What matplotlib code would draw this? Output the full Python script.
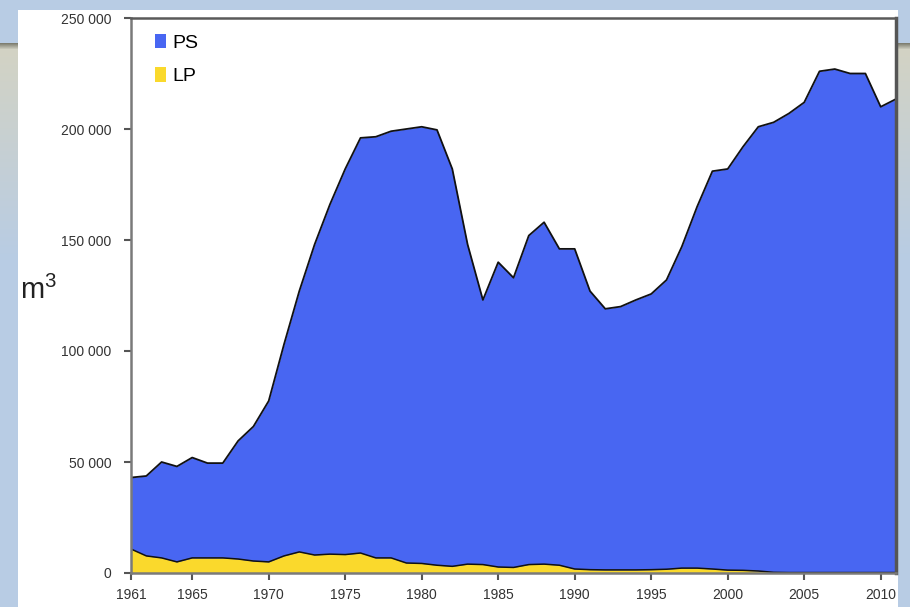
import numpy as np
import matplotlib
matplotlib.use("Agg")
import matplotlib.pyplot as plt
from matplotlib.patches import Rectangle, Patch
from matplotlib.ticker import FuncFormatter
import matplotlib.colors as mcolors

plt.rcParams['font.family'] = ['Liberation Sans', 'DejaVu Sans']
plt.rcParams['mathtext.default'] = 'regular'

# years 1961-2011
years = list(range(1961, 2012))

# top of the blue area (PS), m3
ps = [43000, 43700, 50000, 48000, 52000, 49500, 49500, 59500, 66000, 77500,
      103000, 127000, 148000, 166000, 182000, 196000, 196500, 199000, 200000, 201000,
      199600, 182000, 148000, 123000, 140000, 133000, 152000, 158000, 146000, 146000,
      127000, 119000, 120000, 123000, 125700, 132000, 147000, 165000, 181000, 182000,
      192000, 201000, 203000, 207000, 212000, 226000, 227000, 225000, 225000, 210000,
      213500]

# yellow area (LP), m3
lp = [10800, 7700, 6800, 5000, 6800, 6800, 6800, 6300, 5400, 5000,
      7700, 9500, 8100, 8500, 8300, 9000, 6800, 6800, 4500, 4300,
      3500, 3000, 4000, 3800, 2700, 2500, 3800, 4000, 3500, 1800,
      1500, 1400, 1400, 1400, 1500, 1700, 2200, 2200, 1800, 1300,
      1200, 900, 300, 200, 200, 200, 200, 200, 200, 200,
      200]

blue = "#4866F2"
yellow = "#FAD92C"

W, H = 910, 607
fig = plt.figure(figsize=(W / 100, H / 100), dpi=100)
fig.patch.set_facecolor("#B8CCE4")

# slide background: light blue with a grey band under the header
bg = fig.add_axes([0, 0, 1, 1])
bg.set_axis_off()
top_c = np.array(mcolors.to_rgb("#B8CCE4"))
dark = np.array(mcolors.to_rgb("#7E7E70"))
grey = np.array(mcolors.to_rgb("#D3D3C4"))
rows = np.zeros((H, 1, 3))
for r in range(H):
    if r < 43:
        rows[r, 0] = top_c
    elif r < 49:
        t = (r - 43) / 6
        rows[r, 0] = dark * (1 - t) + grey * t
    elif r < 260:
        t = (r - 49) / 211
        rows[r, 0] = grey * (1 - t) + top_c * t
    else:
        rows[r, 0] = top_c
bg.imshow(rows, aspect="auto", extent=[0, 1, 0, 1], origin="upper")
bg.set_xlim(0, 1)
bg.set_ylim(0, 1)
bg.add_patch(Rectangle((18 / W, 0), (898 - 18) / W, (H - 10) / H,
                       facecolor="white", edgecolor="none"))

ax = fig.add_axes([131 / W, (H - 573) / H, (896 - 131) / W, (573 - 18) / H])
ax.set_facecolor("white")

ax.fill_between(years, 0, ps, color=blue, linewidth=0)
ax.plot(years, ps, color="#111111", lw=1.3)
ax.fill_between(years, 0, lp, color=yellow, linewidth=0)
ax.plot(years, lp, color="#111111", lw=1.1)

ax.set_xlim(1961, 2011)
ax.set_ylim(0, 250000)
ax.set_xticks([1961] + list(range(1965, 2011, 5)))
ax.set_yticks(range(0, 250001, 50000))
ax.yaxis.set_major_formatter(FuncFormatter(lambda v, p: f"{int(v):,}".replace(",", " ")))
ax.tick_params(axis="both", labelsize=10, colors="#555555", labelcolor="#333333",
               length=5, width=1.5)
ax.tick_params(axis="y", pad=9)
ax.tick_params(axis="x", pad=6)

for s in ax.spines.values():
    s.set_color("#7a7a7a")
    s.set_linewidth(1.8)
ax.spines["top"].set_color("#5a5a5a")
ax.spines["right"].set_color("#555555")
ax.spines["right"].set_linewidth(2.5)

handles = [Patch(facecolor=blue, edgecolor="none"), Patch(facecolor=yellow, edgecolor="none")]
ax.legend(handles, ["PS", "LP"], loc="upper left", bbox_to_anchor=(0.031, 0.972),
          frameon=False, fontsize=14, handlelength=0.6, handleheight=0.8,
          handletextpad=0.3, labelspacing=0.8, borderaxespad=0, borderpad=0)

fig.text(20 / W, 1 - 290 / H, "m$^3$", fontsize=21, color="#222222",
         ha="left", va="center")

fig.savefig("out.png", dpi=100, facecolor=fig.get_facecolor())
